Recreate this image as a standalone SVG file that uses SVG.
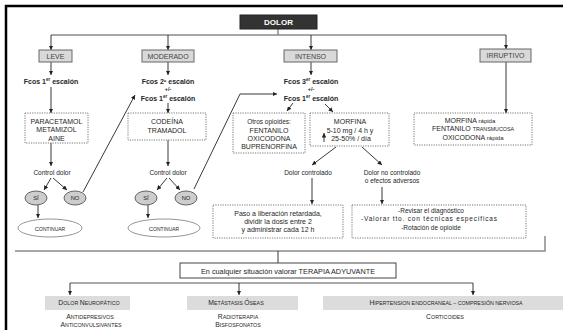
<svg xmlns="http://www.w3.org/2000/svg" width="563" height="330" viewBox="0 0 563 330">
<style>
text{font-family:"Liberation Sans",Arial,Helvetica,sans-serif;fill:#262626;text-anchor:middle}
.b{font-weight:bold}
.f7{font-size:7px}
.f65{font-size:6.5px}
.lbl{font-size:7px;fill:#444}
.dot{fill:#fff;stroke:#555;stroke-width:0.8;stroke-dasharray:1.2 1.2}
.gbox{fill:#d9d9d9;stroke:#666;stroke-width:1}
.ell{fill:#cdcdcd;stroke:#555;stroke-width:0.9}
.cont{fill:#fff;stroke:#888;stroke-width:0.9}
.sbox{fill:#dcdcdc}
.c{fill:none;stroke:#222;stroke-width:0.9}
.g{fill:none;stroke:#8a8a8a;stroke-width:1.5}
.g2{fill:none;stroke:#555;stroke-width:1.1}
.sm{font-size:5.3px}
.cap{font-size:6.8px}
</style>
<defs>
<marker id="ah" viewBox="0 0 6 6" refX="6" refY="3" markerWidth="4.5" markerHeight="4.5" markerUnits="userSpaceOnUse" orient="auto"><path d="M0,0 L6,3 L0,6 z" fill="#222"/></marker>
</defs>
<rect width="563" height="330" fill="#fff"/>
<path d="M6,330 V6 H563" fill="none" stroke="#000" stroke-width="2.5"/>

<g id="connectors">
<path class="g" d="M278,29 V35 M51,35 H506"/>
<path class="c" marker-end="url(#ah)" d="M51,35 V50"/>
<path class="c" marker-end="url(#ah)" d="M168,35 V50"/>
<path class="c" marker-end="url(#ah)" d="M311,35 V50"/>
<path class="c" marker-end="url(#ah)" d="M506,35 V49"/>
<path class="c" marker-end="url(#ah)" d="M51,62 V75"/>
<path class="c" marker-end="url(#ah)" d="M51,87 V113"/>
<path class="c" marker-end="url(#ah)" d="M51,143 V166"/>
<path class="c" marker-end="url(#ah)" d="M51,178 L44,190"/>
<path class="c" marker-end="url(#ah)" d="M53,178 L67,190"/>
<path class="c" marker-end="url(#ah)" d="M38,205 V218"/>
<path class="c" marker-end="url(#ah)" d="M83,192 L135,95"/>
<path class="c" marker-end="url(#ah)" d="M168,62 V75"/>
<path class="c" marker-end="url(#ah)" d="M168,103 V113"/>
<path class="c" marker-end="url(#ah)" d="M168,140 V166"/>
<path class="c" marker-end="url(#ah)" d="M167,178 L157,190"/>
<path class="c" marker-end="url(#ah)" d="M169,178 L180,190"/>
<path class="c" marker-end="url(#ah)" d="M148,205 V218"/>
<path class="c" marker-end="url(#ah)" d="M194,189 L240,94 H277"/>
<path class="c" marker-end="url(#ah)" d="M311,62 V75"/>
<path class="c" marker-end="url(#ah)" d="M293,103 L287,111"/>
<path class="c" marker-end="url(#ah)" d="M325,104 L333,112"/>
<path class="c" marker-end="url(#ah)" d="M336,147 L312,165"/>
<path class="c" marker-end="url(#ah)" d="M362,147 L382,165"/>
<path class="c" marker-end="url(#ah)" d="M312,178 V204"/>
<path class="c" marker-end="url(#ah)" d="M382,187 V204"/>
<path class="c" marker-end="url(#ah)" d="M506,62 V113"/>
<path class="g" d="M545,236 V251 H15"/>
<path class="c" d="M278,251 V263"/>
<path class="g2" d="M70,283 H473"/>
<path class="c" marker-end="url(#ah)" d="M70,283 V295"/>
<path class="c" marker-end="url(#ah)" d="M239,283 V295"/>
<path class="c" marker-end="url(#ah)" d="M473,283 V295"/>
</g>

<g id="dolor">
<rect x="240" y="15" width="77" height="14" fill="#333" stroke="#222"/>
<text x="278.5" y="25" class="b" style="font-size:8px;fill:#fff">DOLOR</text>
</g>

<g id="leve">
<rect class="gbox" x="39" y="50" width="33" height="12"/>
<text x="55.5" y="58.5" class="lbl">LEVE</text>
<text x="51" y="83.5" class="b f7">Fcos 1<tspan font-size="4.5" dy="-2.5">er</tspan><tspan dy="2.5"> escalón</tspan></text>
</g>
<g id="leve-farmacos">
<rect class="dot" x="25" y="113" width="63" height="30"/>
<text x="56.5" y="123.5" class="f7">PARACETAMOL</text>
<text x="56.5" y="132" class="f7">METAMIZOL</text>
<text x="56.5" y="140.5" class="f7">AINE</text>
</g>
<g id="leve-control"><text x="52" y="174.5" class="f65">Control dolor</text></g>
<g id="leve-si"><ellipse class="ell" cx="36" cy="198" rx="11" ry="7"/><text x="36" y="200" style="font-size:5.8px">SÍ</text></g>
<g id="leve-no"><ellipse class="ell" cx="75" cy="198" rx="11" ry="7"/><text x="75" y="200" style="font-size:5.8px">NO</text></g>
<g id="leve-continuar"><ellipse class="cont" cx="50" cy="228" rx="32" ry="9"/><text x="50" y="230.5" style="font-size:6px">C<tspan style="font-size:5px">ONTINUAR</tspan></text></g>

<g id="moderado">
<rect class="gbox" x="142" y="50" width="52" height="12"/>
<text x="168" y="58.5" class="lbl">MODERADO</text>
<text x="168" y="83.5" class="b f7">Fcos 2º escalón</text>
<text x="168" y="91" class="b" style="font-size:5.5px">+/-</text>
<text x="168" y="100.5" class="b f7">Fcos 1<tspan font-size="4.5" dy="-2.5">er</tspan><tspan dy="2.5"> escalón</tspan></text>
</g>
<g id="moderado-farmacos">
<rect class="dot" x="128" y="113" width="78" height="27"/>
<text x="167" y="124" class="f7">CODEÍNA</text>
<text x="167" y="132.5" class="f7">TRAMADOL</text>
</g>
<g id="moderado-control"><text x="168" y="174.5" class="f65">Control dolor</text></g>
<g id="moderado-si"><ellipse class="ell" cx="146" cy="198" rx="11" ry="7"/><text x="146" y="200" style="font-size:5.8px">SÍ</text></g>
<g id="moderado-no"><ellipse class="ell" cx="186" cy="198" rx="11" ry="7"/><text x="186" y="200" style="font-size:5.8px">NO</text></g>
<g id="moderado-continuar"><ellipse class="cont" cx="164" cy="228" rx="36" ry="9"/><text x="164" y="230.5" style="font-size:6px">C<tspan style="font-size:5px">ONTINUAR</tspan></text></g>

<g id="intenso">
<rect class="gbox" x="284" y="50" width="53" height="12"/>
<text x="310.5" y="58.5" class="lbl">INTENSO</text>
<text x="311" y="83.5" class="b f7">Fcos 3<tspan font-size="4.5" dy="-2.5">er</tspan><tspan dy="2.5"> escalón</tspan></text>
<text x="311" y="91" class="b" style="font-size:5.5px">+/-</text>
<text x="311" y="100.5" class="b f7">Fcos 1<tspan font-size="4.5" dy="-2.5">er</tspan><tspan dy="2.5"> escalón</tspan></text>
</g>
<g id="otros-opioides">
<rect class="dot" x="233" y="113" width="72" height="40"/>
<text x="269" y="124" class="f65">Otros opioides:</text>
<text x="269" y="132.5" class="f7">FENTANILO</text>
<text x="269" y="140.5" class="f7">OXICODONA</text>
<text x="269" y="148.5" class="f7">BUPRENORFINA</text>
</g>
<g id="morfina">
<rect class="dot" x="310" y="113" width="79" height="33"/>
<text x="350" y="124" class="f7">MORFINA</text>
<text x="350" y="132.5" class="f7">5-10 mg / 4 h y</text>
<text x="351" y="140.5" class="f7">25-50% / día</text>
<path class="c" marker-end="url(#ah)" d="M324,142 V133"/>
</g>
<g id="dolor-controlado"><text x="308" y="174.5" class="f65">Dolor controlado</text></g>
<g id="dolor-no-controlado">
<text x="392" y="174.5" class="f65">Dolor no controlado</text>
<text x="392" y="183" class="f65">o efectos adversos</text>
</g>
<g id="liberacion">
<rect class="dot" x="213" y="205" width="130" height="33"/>
<text x="278" y="215.5" class="f7">Paso a liberación retardada,</text>
<text x="278" y="223.5" class="f7">dividir la dosis entre 2</text>
<text x="278" y="231.5" class="f7">y administrar cada 12 h</text>
</g>
<g id="revisar">
<rect class="dot" x="352" y="205" width="174" height="33"/>
<text x="431" y="212.5" class="f65">-Revisar el diagnóstico</text>
<text x="429" y="221" class="f65" textLength="136" lengthAdjust="spacing">-Valorar tto. con técnicas específicas</text>
<text x="431" y="229.5" class="f65">-Rotación de opioide</text>
</g>

<g id="irruptivo">
<rect class="gbox" x="480" y="49" width="51" height="13"/>
<text x="505.5" y="58" class="lbl">IRRUPTIVO</text>
</g>
<g id="irruptivo-farmacos">
<rect class="dot" x="414" y="113" width="118" height="32"/>
<text x="470" y="122.5" class="f7">MORFINA <tspan style="font-size:6px">rápida</tspan></text>
<text x="473" y="131" class="f7">FENTANILO <tspan style="font-size:5.3px">TRANSMUCOSA</tspan></text>
<text x="473" y="139.5" class="f7">OXICODONA <tspan style="font-size:6px">rápida</tspan></text>
</g>

<g id="terapia">
<rect x="180" y="263" width="216" height="15" fill="#fff" stroke="#444" stroke-width="1"/>
<text x="288" y="273.5" style="font-size:7.3px">En cualquier situación valorar TERAPIA  ADYUVANTE</text>
</g>

<g id="neuropatico">
<rect class="sbox" x="45" y="296" width="85" height="14"/>
<text x="89" y="305" class="sm"><tspan class="cap">D</tspan>OLOR <tspan class="cap">N</tspan>EUROPÁTICO</text>
<text x="90" y="319" class="sm"><tspan class="cap">A</tspan>NTIDEPRESIVOS</text>
<text x="91" y="327" class="sm"><tspan class="cap">A</tspan>NTICONVULSIVANTES</text>
</g>
<g id="metastasis">
<rect class="sbox" x="187" y="296" width="111" height="14"/>
<text x="236" y="305" class="sm"><tspan class="cap">M</tspan>ETÁSTASIS <tspan class="cap">Ó</tspan>SEAS</text>
<text x="238" y="319" class="sm"><tspan class="cap">R</tspan>ADIOTERAPIA</text>
<text x="238" y="327" class="sm"><tspan class="cap">B</tspan>ISFOSFONATOS</text>
</g>
<g id="hipertension">
<rect class="sbox" x="323" y="296" width="240" height="14"/>
<text x="446" y="305" class="sm"><tspan class="cap">H</tspan>IPERTENSION ENDOCRANEAL – COMPRESIÓN NERVIOSA</text>
<text x="445" y="319" class="sm"><tspan class="cap">C</tspan>ORTICOIDES</text>
</g>
</svg>
